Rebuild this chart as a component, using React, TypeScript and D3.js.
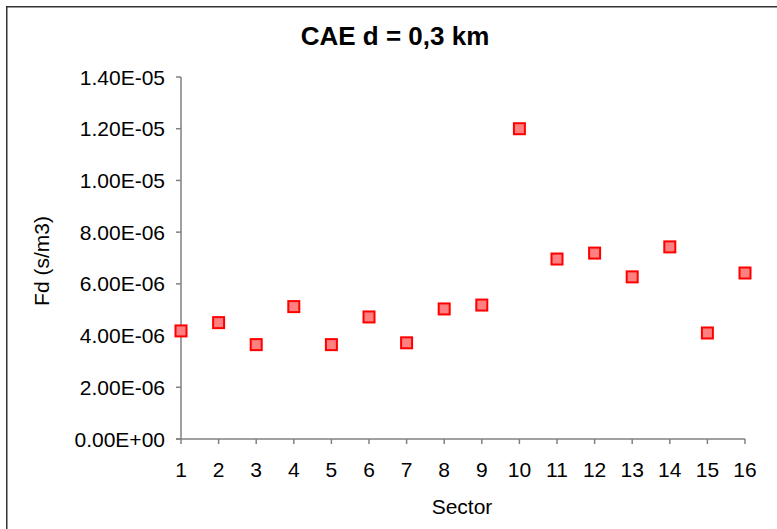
import React from "react";
import * as d3 from "d3";

const sectors = [1, 2, 3, 4, 5, 6, 7, 8, 9, 10, 11, 12, 13, 14, 15, 16];
const fdValues = [
  4.18e-6, 4.5e-6, 3.65e-6, 5.12e-6, 3.65e-6, 4.72e-6, 3.72e-6, 5.03e-6,
  5.18e-6, 1.2e-5, 6.96e-6, 7.19e-6, 6.27e-6, 7.43e-6, 4.1e-6, 6.42e-6,
];
const yTicks = [0, 2e-6, 4e-6, 6e-6, 8e-6, 1e-5, 1.2e-5, 1.4e-5];
const titleText = "CAE d = 0,3 km";
const xLabel = "Sector";
const yLabel = "Fd (s/m3)";

const W = 777;
const H = 529;
const FONT = "'Liberation Sans', Arial, sans-serif";

function fmtExp(v: number): string {
  if (v === 0) return "0.00E+00";
  const e = Math.floor(Math.log10(v) + 1e-9);
  const m = v / Math.pow(10, e);
  const sign = e < 0 ? "-" : "+";
  const ae = Math.abs(e);
  return `${m.toFixed(2)}E${sign}${ae < 10 ? "0" + ae : ae}`;
}

export default function App() {
  const x = d3.scaleLinear().domain([1, 16]).range([181, 745]);
  const y = d3.scaleLinear().domain([0, 1.4e-5]).range([439, 77]);
  const ms = 11;
  const axisColor = "#808080";

  return (
    <svg
      width={W}
      height={H}
      style={{ position: "absolute", left: 0, top: 0, background: "#fff" }}
    >
      <rect x={0} y={0} width={W} height={H} fill="#fff" />
      <rect x={6.75} y={6.75} width={W + 20} height={H + 20} fill="none" stroke="#333" strokeWidth={1.5} />
      <text
        x={395}
        y={45}
        textAnchor="middle"
        fontFamily={FONT}
        fontWeight="bold"
        fontSize={26}
        fill="#000"
      >
        {titleText}
      </text>
      {/* y axis */}
      <line x1={x(1)} x2={x(1)} y1={y(1.4e-5)} y2={y(0)} stroke={axisColor} strokeWidth={1.5} />
      {yTicks.map((t) => (
        <g key={t}>
          <line x1={x(1) - 5} x2={x(1)} y1={y(t)} y2={y(t)} stroke={axisColor} strokeWidth={1.5} />
          <text
            x={x(1) - 16}
            y={y(t)}
            dy="0.36em"
            textAnchor="end"
            fontFamily={FONT}
            fontSize={21}
            fill="#000"
          >
            {fmtExp(t)}
          </text>
        </g>
      ))}
      {/* x axis */}
      <line x1={x(1) - 5} x2={x(16)} y1={y(0)} y2={y(0)} stroke={axisColor} strokeWidth={1.5} />
      {sectors.map((s) => (
        <g key={s}>
          <line x1={x(s)} x2={x(s)} y1={y(0)} y2={y(0) + 5} stroke={axisColor} strokeWidth={1.5} />
          <text
            x={x(s)}
            y={477}
            textAnchor="middle"
            fontFamily={FONT}
            fontSize={21}
            fill="#000"
          >
            {s}
          </text>
        </g>
      ))}
      <text x={462} y={514} textAnchor="middle" fontFamily={FONT} fontSize={21} fill="#000">
        {xLabel}
      </text>
      <text
        transform={`translate(49,261) rotate(-90)`}
        textAnchor="middle"
        fontFamily={FONT}
        fontSize={21}
        fill="#000"
      >
        {yLabel}
      </text>
      {sectors.map((s, i) => (
        <rect
          key={s}
          x={x(s) - ms / 2}
          y={y(fdValues[i]) - ms / 2}
          width={ms}
          height={ms}
          fill="#FF8080"
          stroke="#FF0000"
          strokeWidth={2}
        />
      ))}
    </svg>
  );
}
